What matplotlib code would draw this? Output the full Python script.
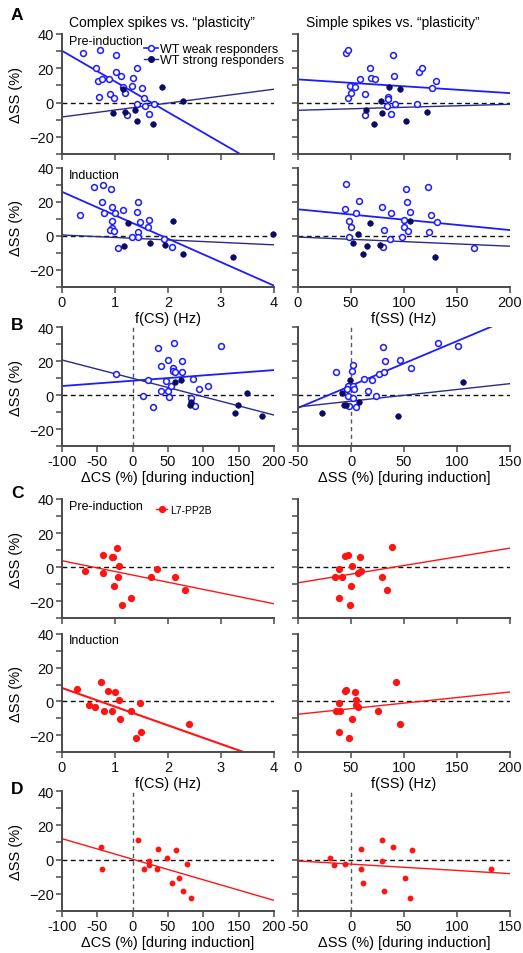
"""Spike rate vs. plasticity scatter panels (WT and L7-PP2B)."""

import matplotlib

matplotlib.use("Agg")
import matplotlib.pyplot as plt
import numpy as np
from matplotlib.lines import Line2D

WEAK = "#1c1cff"
STRONG = "#0b0b66"
STRONG_LINE = "#2a2a8c"
RED = "#ff1414"
SPINE = "#4a4a4a"

# ---------------- panel A: pre-induction ----------------
a1_cs_weak_x = [0.40, 0.72, 1.01, 0.65, 1.41, 1.01, 1.11, 0.67, 0.75, 0.88, 1.34, 1.32,
                1.50, 1.16, 1.18, 0.91, 0.98, 0.70, 1.54, 1.42, 1.56, 1.73, 1.65, 1.22]
a1_cs_weak_y = [29.2, 30.4, 27.8, 20.0, 20.4, 17.6, 15.7, 12.4, 13.9, 13.7, 14.1, 9.6,
                8.6, 9.2, 5.3, 5.1, 2.7, 3.3, 2.4, -0.8, -1.8, -0.6, -6.5, -7.1]
a1_cs_strong_x = [1.16, 1.88, 2.29, 0.97, 1.18, 1.37, 1.41, 1.71]
a1_cs_strong_y = [7.8, 8.8, 1.2, -5.9, -5.5, -4.3, -10.6, -12.5]

a1_ss_weak_x = [45.2, 46.8, 89.5, 68.1, 68.8, 72.2, 58.1, 90.4, 114.3, 116.8, 130.6, 126.5,
                48.7, 53.4, 49.6, 47.1, 62.8, 84.5, 84.8, 84.2, 91.1, 111.8, 63.1, 87.3]
a1_ss_weak_y = [29.2, 30.4, 27.8, 20.4, 14.1, 13.7, 13.7, 15.7, 17.6, 20.0, 12.5, 8.6,
                9.6, 9.0, 5.3, 2.7, 5.1, 3.3, 2.0, -1.8, -0.6, -0.8, -7.1, -6.5]
a1_ss_strong_x = [85.4, 96.1, 78.5, 64.4, 79.4, 121.8, 71.6, 101.7]
a1_ss_strong_y = [9.0, 7.8, 1.2, -4.1, -5.9, -5.5, -12.5, -10.6]

# ---------------- panel A: induction ----------------
a2_cs_weak_x = [0.34, 0.60, 0.77, 0.92, 0.75, 0.80, 0.95, 1.00, 0.95, 1.16, 1.43, 1.41,
                1.48, 1.65, 1.63, 0.94, 0.91, 0.99, 1.44, 1.32, 1.44, 1.92, 2.07, 1.05]
a2_cs_weak_y = [12.2, 28.7, 30.2, 27.6, 19.8, 13.8, 17.3, 13.6, 9.1, 15.5, 20.2, 14.2,
                8.3, 9.5, 5.2, 5.0, 3.3, 2.7, 2.3, -0.6, -0.8, -1.7, -6.4, -6.8]
a2_cs_strong_x = [1.24, 2.10, 3.99, 1.17, 1.66, 1.95, 2.29, 3.23]
a2_cs_strong_y = [7.6, 8.7, 1.2, -5.8, -4.3, -5.4, -10.5, -12.2]

a2_ss_weak_x = [45.5, 102.0, 122.8, 57.8, 102.4, 79.7, 44.6, 88.2, 54.3, 105.8, 125.0, 48.0,
                100.2, 131.2, 49.6, 80.7, 99.9, 103.6, 123.7, 47.7, 86.7, 97.7, 80.4, 165.8]
a2_ss_weak_y = [30.3, 27.8, 28.7, 20.4, 19.8, 17.3, 15.7, 13.8, 13.6, 14.2, 12.2, 9.1,
                9.7, 8.5, 5.2, 3.5, 5.4, 2.7, 2.3, -0.6, -1.6, -0.6, -6.2, -6.8]
a2_ss_strong_x = [67.5, 105.8, 56.2, 51.5, 64.7, 77.6, 60.9, 129.4]
a2_ss_strong_y = [7.6, 8.9, 1.2, -4.3, -5.8, -5.4, -10.5, -12.2]

# ---------------- panel B: change during induction ----------------
b_cs_weak_x = [-24.2, 35.7, 58.7, 124.7, 50.3, 70.0, 40.8, 56.4, 56.9, 60.6, 69.6, 22.0,
               47.0, 85.6, 54.0, 107.3, 93.6, 49.3, 39.4, 14.5, 51.7, 83.2, 87.5, 28.6]
b_cs_weak_y = [12.2, 27.8, 30.6, 28.6, 20.4, 19.8, 17.3, 15.7, 14.3, 13.5, 13.5, 9.0,
               8.4, 9.4, 5.1, 5.3, 3.3, 2.5, 2.2, -0.6, -1.0, -1.8, -6.7, -7.1]
b_cs_strong_x = [60.6, 67.7, 162.4, 82.8, 81.8, 149.6, 145.4, 183.6]
b_cs_strong_y = [7.6, 8.8, 1.2, -4.1, -5.7, -5.7, -10.6, -12.5]

b_ss_weak_x = [-14.5, 0.9, 1.8, 30.4, 32.3, 45.8, 81.9, 100.7, 56.8, 26.3, 31.3, 11.9,
               19.7, -2.6, 2.1, -3.8, 2.5, 15.6, -3.2, 1.5, 23.2, -2.0, 4.9]
b_ss_weak_y = [13.7, 14.3, 17.5, 28.0, 20.0, 20.4, 30.6, 29.0, 15.7, 12.4, 13.5, 9.4,
               9.0, 5.3, 5.3, 3.3, 3.3, 2.4, -0.6, -1.8, -0.6, -6.5, -6.9]
b_ss_strong_x = [-1.3, -8.9, -6.4, -4.5, 7.5, -27.4, 43.9, 105.4]
b_ss_strong_y = [8.8, 1.2, -5.7, -5.7, -4.3, -10.6, -12.4, 7.6]

# ---------------- panel C: L7-PP2B ----------------
c1_cs_x = [0.43, 0.77, 0.77, 0.94, 0.97, 1.04, 1.08, 1.06, 0.99, 1.14, 1.31, 1.68, 1.80, 2.13, 2.33]
c1_cs_y = [-2.3, 7.2, -3.3, 5.6, 6.0, 11.3, 0.6, -6.0, -10.9, -22.1, -18.3, -5.8, -1.4, -5.6, -13.8]
c1_ss_x = [34.9, 38.3, 41.4, 44.6, 47.1, 58.1, 50.9, 56.5, 59.0, 49.9, 38.3, 49.3, 79.4, 83.5, 88.9]
c1_ss_y = [-5.8, -1.2, -5.6, 6.2, 7.2, 5.6, 0.6, -3.3, -2.3, -10.9, -18.1, -22.1, -5.8, -13.8, 11.5]

c2_cs_x = [0.28, 0.74, 0.50, 0.63, 0.87, 1.00, 1.07, 0.79, 0.95, 1.09, 1.31, 1.48, 1.39, 1.49, 2.40]
c2_cs_y = [7.2, 11.5, -2.3, -3.3, 6.0, 5.6, 0.8, -5.6, -5.6, -10.7, -5.6, -1.2, -21.9, -18.1, -13.6]
c2_ss_x = [35.5, 39.6, 38.6, 44.3, 45.5, 54.0, 54.3, 54.9, 56.5, 50.9, 38.6, 47.7, 75.4, 92.9, 95.8]
c2_ss_y = [-5.6, -5.6, -1.2, 6.0, 6.8, 5.8, 0.8, -2.1, -3.3, -10.7, -18.1, -21.9, -5.8, 11.5, -13.6]

# ---------------- panel D: L7-PP2B change during induction ----------------
d_cs_x = [-44.9, -43.9, 6.9, 16.3, 23.4, 23.4, 35.7, 34.7, 48.8, 61.5, 76.2, 65.8, 55.0, 71.0, 82.3]
d_cs_y = [7.3, -5.5, 11.6, -5.7, -1.0, -3.1, 6.3, -5.7, 0.8, 5.7, -2.4, -11.0, -13.7, -18.2, -22.4]
d_ss_x = [-19.5, -16.4, -6.0, 9.7, 9.0, 11.5, 28.8, 28.8, 31.6, 39.8, 51.4, 56.1, 57.4, 131.8]
d_ss_y = [0.8, -3.1, -2.4, 6.3, -5.7, -13.7, 11.6, -1.0, -18.2, 7.3, -11.0, -22.4, 5.7, -5.5]

# regression lines: (intercept at x=0, slope)
fit_a1_cs = {"weak": (30.2, -17.9), "strong": (-8.4, 4.05)}
fit_a1_ss = {"weak": (13.5, -0.040), "strong": (-4.5, 0.0175)}
fit_a2_cs = {"weak": (26.0, -13.8), "strong": (0.6, -1.45)}
fit_a2_ss = {"weak": (15.7, -0.061), "strong": (-0.6, -0.027)}
fit_b_cs = {"weak": (8.4, 0.0313), "strong": (9.8, -0.108)}
fit_b_ss = {"weak": (5.5, 0.262), "strong": (-3.6, 0.0685)}
fit_c1_cs = (3.7, -6.33)
fit_c1_ss = (-9.3, 0.102)
fit_c2_cs = (8.0, -11.1)
fit_c2_ss = (-7.6, 0.066)
fit_d_cs = (0.2, -0.120)
fit_d_ss = (-2.65, -0.037)

CS_LIM, CS_TICKS = (0, 4), [0, 1, 2, 3, 4]
SS_LIM, SS_TICKS = (0, 200), [0, 50, 100, 150, 200]
DCS_LIM, DCS_TICKS = (-100, 200), [-100, -50, 0, 50, 100, 150, 200]
DSS_LIM, DSS_TICKS = (-50, 150), [-50, 0, 50, 100, 150]

plt.rcParams.update({
    "font.family": ["Liberation Sans", "DejaVu Sans"],
    "font.size": 10.5,
    "axes.linewidth": 1.4,
    "xtick.major.size": 4,
    "ytick.major.size": 4,
    "ytick.minor.size": 4,
    "xtick.major.width": 1.1,
    "ytick.major.width": 1.1,
    "ytick.minor.width": 1.1,
    "xtick.major.pad": 2,
    "ytick.major.pad": 2,
})

W, H = 523, 954
fig = plt.figure(figsize=(W / 100, H / 100), dpi=100)


def new_ax(left, top, bottom):
    return fig.add_axes([left / W, 1 - bottom / H, 212 / W, (bottom - top) / H])


def style(ax, xlim, xticks, left_col, xticklabels=True, xlabel=None, vline=False):
    ax.set_xlim(*xlim)
    ax.set_ylim(-30, 40)
    for side in ("top", "right"):
        ax.spines[side].set_visible(False)
    for side in ("left", "bottom"):
        ax.spines[side].set_color(SPINE)
    ax.tick_params(colors=SPINE, labelcolor="#111111", direction="out")
    ax.tick_params(axis="y", which="minor", colors=SPINE, direction="out")
    ax.set_xticks(xticks)
    ax.set_yticks([-20, 0, 20, 40])
    ax.set_yticks([-30, -10, 10, 30], minor=True)
    if not xticklabels:
        ax.set_xticklabels([])
    else:
        ax.set_xticklabels([str(t) for t in xticks])
    if left_col:
        ax.set_ylabel("ΔSS (%)", labelpad=4)
    else:
        ax.set_yticklabels([])
    if xlabel:
        ax.set_xlabel(xlabel, labelpad=1)
    ax.axhline(0, color="#111111", lw=1.0, ls=(0, (3.5, 2.5)), zorder=1)
    if vline:
        ax.axvline(0, color="#555555", lw=1.0, ls=(0, (3, 2.5)), zorder=1)


def fit(ax, xlim, coef, color, lw):
    xs = np.array(xlim, dtype=float)
    ax.plot(xs, coef[0] + coef[1] * xs, color=color, lw=lw, zorder=2)


def wt_panel(ax, xlim, wx, wy, sx, sy, coefs):
    fit(ax, xlim, coefs["weak"], WEAK, 1.3)
    fit(ax, xlim, coefs["strong"], STRONG_LINE, 1.0)
    ax.plot(wx, wy, "o", ms=4.2, mfc="white", mec=WEAK, mew=1.1, zorder=3, clip_on=False)
    ax.plot(sx, sy, "o", ms=4.0, mfc=STRONG, mec=STRONG, mew=0.5, zorder=3, clip_on=False)


def red_panel(ax, xlim, x, y, coef, ms, lw):
    fit(ax, xlim, coef, RED, lw)
    ax.plot(x, y, "o", ms=ms, color=RED, mec=RED, zorder=3, clip_on=False)


L, R = 62, 298

# A
ax = new_ax(L, 35, 155)
style(ax, CS_LIM, CS_TICKS, True, xticklabels=False)
wt_panel(ax, CS_LIM, a1_cs_weak_x, a1_cs_weak_y, a1_cs_strong_x, a1_cs_strong_y, fit_a1_cs)
ax.text(0.033, 0.945, "Pre-induction", transform=ax.transAxes, fontsize=9, va="center")
handles = [
    Line2D([], [], color=WEAK, lw=1.2, marker="o", ms=4.2, mfc="white", mec=WEAK, mew=1.1),
    Line2D([], [], color=STRONG_LINE, lw=1.0, marker="o", ms=4.0, mfc=STRONG, mec=STRONG),
]
fig.legend(handles, ["WT weak responders", "WT strong responders"], loc="upper left",
           bbox_to_anchor=(144 / W, 1 - 44 / H), frameon=False, fontsize=9,
           handlelength=1.1, handletextpad=0.2, labelspacing=-0.05, borderpad=0,
           borderaxespad=0)

ax = new_ax(R, 35, 155)
style(ax, SS_LIM, SS_TICKS, False, xticklabels=False)
wt_panel(ax, SS_LIM, a1_ss_weak_x, a1_ss_weak_y, a1_ss_strong_x, a1_ss_strong_y, fit_a1_ss)

ax = new_ax(L, 169, 288)
style(ax, CS_LIM, CS_TICKS, True, xlabel="f(CS) (Hz)")
wt_panel(ax, CS_LIM, a2_cs_weak_x, a2_cs_weak_y, a2_cs_strong_x, a2_cs_strong_y, fit_a2_cs)
ax.text(0.033, 0.945, "Induction", transform=ax.transAxes, fontsize=9, va="center")

ax = new_ax(R, 169, 288)
style(ax, SS_LIM, SS_TICKS, False, xlabel="f(SS) (Hz)")
wt_panel(ax, SS_LIM, a2_ss_weak_x, a2_ss_weak_y, a2_ss_strong_x, a2_ss_strong_y, fit_a2_ss)

# B
ax = new_ax(L, 328, 447)
style(ax, DCS_LIM, DCS_TICKS, True, xlabel="ΔCS (%) [during induction]", vline=True)
wt_panel(ax, DCS_LIM, b_cs_weak_x, b_cs_weak_y, b_cs_strong_x, b_cs_strong_y, fit_b_cs)

ax = new_ax(R, 328, 447)
style(ax, DSS_LIM, DSS_TICKS, False, xlabel="ΔSS (%) [during induction]", vline=True)
wt_panel(ax, DSS_LIM, b_ss_weak_x, b_ss_weak_y, b_ss_strong_x, b_ss_strong_y, fit_b_ss)

# C
ax = new_ax(L, 500, 619)
style(ax, CS_LIM, CS_TICKS, True, xticklabels=False)
red_panel(ax, CS_LIM, c1_cs_x, c1_cs_y, fit_c1_cs, 4.2, 1.0)
ax.text(0.033, 0.945, "Pre-induction", transform=ax.transAxes, fontsize=9, va="center")
fig.legend([Line2D([], [], color=RED, lw=1.0, marker="o", ms=4.2, mec=RED)], ["L7-PP2B"],
           loc="upper left", bbox_to_anchor=(156 / W, 1 - 506 / H), frameon=False,
           fontsize=7.5, handlelength=1.1, handletextpad=0.3, borderpad=0, borderaxespad=0)

ax = new_ax(R, 500, 619)
style(ax, SS_LIM, SS_TICKS, False, xticklabels=False)
red_panel(ax, SS_LIM, c1_ss_x, c1_ss_y, fit_c1_ss, 4.2, 1.0)

ax = new_ax(L, 635, 753)
style(ax, CS_LIM, CS_TICKS, True, xlabel="f(CS) (Hz)")
red_panel(ax, CS_LIM, c2_cs_x, c2_cs_y, fit_c2_cs, 4.2, 1.5)
ax.text(0.033, 0.945, "Induction", transform=ax.transAxes, fontsize=9, va="center")

ax = new_ax(R, 635, 753)
style(ax, SS_LIM, SS_TICKS, False, xlabel="f(SS) (Hz)")
red_panel(ax, SS_LIM, c2_ss_x, c2_ss_y, fit_c2_ss, 4.2, 1.0)

# D
ax = new_ax(L, 792, 912)
style(ax, DCS_LIM, DCS_TICKS, True, xlabel="ΔCS (%) [during induction]", vline=True)
red_panel(ax, DCS_LIM, d_cs_x, d_cs_y, fit_d_cs, 3.2, 1.0)

ax = new_ax(R, 792, 912)
style(ax, DSS_LIM, DSS_TICKS, False, xlabel="ΔSS (%) [during induction]", vline=True)
red_panel(ax, DSS_LIM, d_ss_x, d_ss_y, fit_d_ss, 3.2, 1.0)

# column titles and panel letters
fig.text(69 / W, 1 - 23 / H, "Complex spikes vs. \u201cplasticity\u201d", fontsize=10, va="center")
fig.text(306 / W, 1 - 23 / H, "Simple spikes vs. \u201cplasticity\u201d", fontsize=10, va="center")
for letter, y in [("A", 15), ("B", 325), ("C", 494), ("D", 789)]:
    fig.text(11 / W, 1 - y / H, letter, fontsize=12.5, fontweight="bold", va="center")

fig.savefig("out.png", dpi=100)
